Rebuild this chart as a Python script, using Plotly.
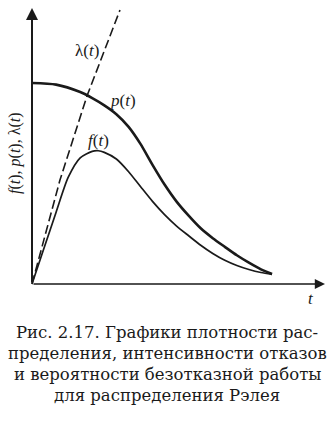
import plotly.graph_objects as go

# ---- data (arbitrary units) ----
t_p = [0.0, 1.0, 2.0, 2.5, 3.0, 3.5, 4.0, 4.5, 5.0, 5.5, 6.0, 6.5, 7.0, 7.5, 8.0, 8.5, 9.0, 9.5, 9.96]
p_vals = [1.000, 0.992, 0.955, 0.925, 0.889, 0.845, 0.783, 0.697, 0.593, 0.495, 0.410, 0.340, 0.277, 0.228, 0.185, 0.143, 0.106, 0.073, 0.050]

t_f = [0.0, 0.5, 1.0, 1.5, 2.0, 2.5, 2.75, 3.0, 3.5, 4.0, 4.5, 5.0, 5.5, 6.0, 6.5, 7.0, 7.5, 8.0, 8.5, 9.0, 9.5, 9.96]
f_vals = [0.0, 0.179, 0.357, 0.530, 0.628, 0.660, 0.663, 0.655, 0.622, 0.560, 0.485, 0.411, 0.345, 0.288, 0.240, 0.193, 0.152, 0.118, 0.092, 0.072, 0.057, 0.048]

t_lam = [0.0, 1.16, 2.28, 3.65]
lam_vals = [0.0, 0.517, 0.935, 1.363]

curve_labels = ["λ(<i>t</i>)", "<i>p</i>(<i>t</i>)", "<i>f</i>(<i>t</i>)"]
label_pos_t = [2.28, 3.78, 2.74]
label_pos_v = [1.164, 0.915, 0.714]

y_title = "<i>f</i>(<i>t</i>), <i>p</i>(<i>t</i>), λ(<i>t</i>)"
x_title = "<i>t</i>"
caption_lines = [
    "Рис. 2.17. Графики плотности рас-",
    "пределения, интенсивности отказов",
    "и вероятности безотказной работы",
    "для распределения Рэлея",
]

W, H = 330, 423
# pixel mapping: px = 32 + t*24.1 ; py = 284 - v*201
x0_px, sx = 32.0, 24.1
y0_px, sy = 284.0, 201.0
xr = [(0 - x0_px) / sx, (W - x0_px) / sx]
yr = [(y0_px - H) / sy, y0_px / sy]

ink = "#1a1a1a"
serif = "Liberation Serif"

fig = go.Figure()
fig.add_trace(go.Scatter(x=t_p, y=p_vals, mode="lines", line=dict(color=ink, width=2.6, shape="spline", smoothing=0.7), hoverinfo="skip"))
fig.add_trace(go.Scatter(x=t_f, y=f_vals, mode="lines", line=dict(color=ink, width=1.7, shape="spline", smoothing=0.7), hoverinfo="skip"))
fig.add_trace(go.Scatter(x=t_lam, y=lam_vals, mode="lines", line=dict(color=ink, width=1.6, dash="9px,4px"), hoverinfo="skip"))

ann = []
# axes with arrows
ann.append(dict(x=0, y=(y0_px - 8) / sy, ax=0, ay=0, xref="x", yref="y", axref="x", ayref="y",
                showarrow=True, arrowhead=2, arrowsize=1.2, arrowwidth=2, arrowcolor=ink, text=""))
ann.append(dict(x=(325 - x0_px) / sx, y=0, ax=0, ay=0, xref="x", yref="y", axref="x", ayref="y",
                showarrow=True, arrowhead=2, arrowsize=1.2, arrowwidth=1.7, arrowcolor=ink, text=""))
for txt, tx, ty in zip(curve_labels, label_pos_t, label_pos_v):
    ann.append(dict(x=tx, y=ty, xref="x", yref="y", text=txt, showarrow=False,
                    font=dict(family=serif, size=17, color=ink)))
ann.append(dict(x=(311 - x0_px) / sx, y=(y0_px - 298) / sy, xref="x", yref="y", text=x_title,
                showarrow=False, font=dict(family=serif, size=17, color=ink)))
ann.append(dict(x=(15 - x0_px) / sx, y=(y0_px - 153) / sy, xref="x", yref="y", text=y_title, textangle=-90,
                showarrow=False, font=dict(family=serif, size=16, color=ink)))

cap_y = [332, 353, 374, 395]
for line, py in zip(caption_lines, cap_y):
    ann.append(dict(x=167 / W, y=1 - py / H, xref="paper", yref="paper", text=line, showarrow=False,
                    xanchor="center", yanchor="middle",
                    font=dict(family="DejaVu Serif", size=16.5, color=ink)))

fig.update_layout(
    width=W, height=H, margin=dict(l=0, r=0, t=0, b=0),
    paper_bgcolor="white", plot_bgcolor="white", showlegend=False,
    xaxis=dict(range=xr, visible=False, fixedrange=True),
    yaxis=dict(range=yr, visible=False, fixedrange=True),
    annotations=ann,
)
fig.write_html("out.html")
